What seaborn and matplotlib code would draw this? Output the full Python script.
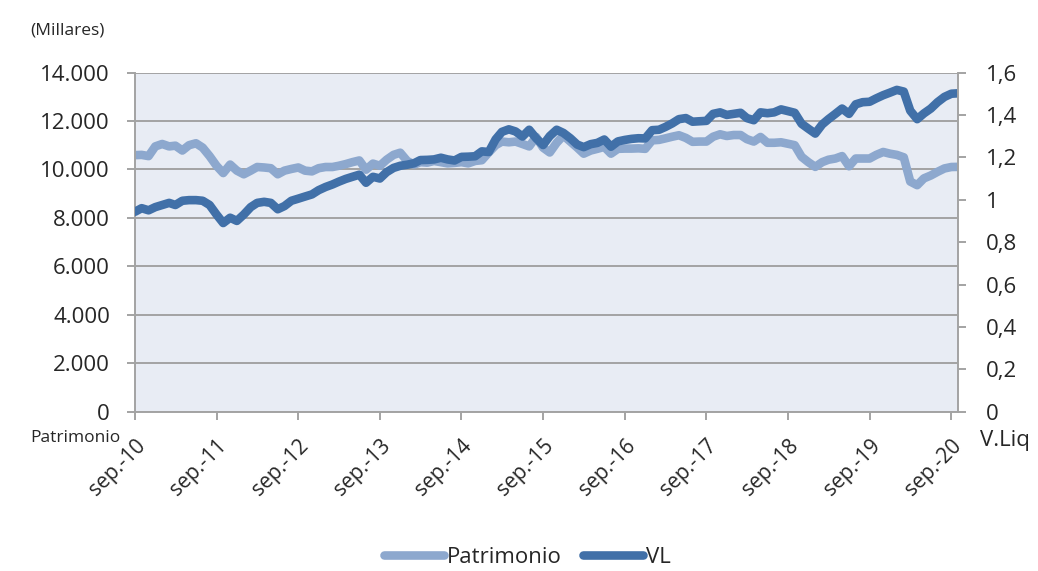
import numpy as np
import pandas as pd
import matplotlib
matplotlib.use("Agg")
import matplotlib.pyplot as plt
import seaborn as sns

# ---------------- data (monthly, sep-2010 .. oct-2020) ----------------
patrimonio = [
    10590, 10600, 10550, 10950, 11050, 10950, 10980, 10780, 11000, 11080,
    10900, 10550, 10150, 9850, 10200, 9950, 9800, 9950, 10100, 10080,
    10050, 9800, 9950, 10020, 10080, 9950, 9920, 10050, 10100, 10100,
    10150, 10220, 10300, 10370, 9990, 10240, 10150, 10400, 10600, 10690,
    10350, 10200, 10300, 10280, 10350, 10300, 10250, 10270, 10300, 10250,
    10350, 10380, 10700, 11000, 11150, 11120, 11150, 11050, 10950, 11340,
    10900, 10700, 11100, 11400, 11150, 10900, 10650, 10780, 10850, 10930,
    10650, 10850, 10860, 10860, 10870, 10850, 11200, 11220, 11280, 11350,
    11410, 11300, 11140, 11150, 11150, 11350, 11450, 11380, 11420, 11420,
    11250, 11150, 11340, 11100, 11100, 11120, 11060, 11000, 10520, 10300,
    10105, 10300, 10400, 10450, 10550, 10130, 10450, 10450, 10450, 10600,
    10720, 10650, 10600, 10500, 9500, 9350, 9630, 9750, 9900, 10040,
    10100, 10105,
]
vl = [
    0.943, 0.960, 0.950, 0.965, 0.975, 0.985, 0.975, 0.995, 0.998, 0.998,
    0.995, 0.975, 0.930, 0.890, 0.915, 0.900, 0.930, 0.965, 0.985, 0.990,
    0.985, 0.955, 0.970, 0.995, 1.005, 1.015, 1.025, 1.045, 1.060, 1.072,
    1.085, 1.098, 1.108, 1.118, 1.080, 1.108, 1.100, 1.130, 1.150, 1.160,
    1.165, 1.172, 1.187, 1.188, 1.190, 1.198, 1.190, 1.185, 1.202, 1.203,
    1.205, 1.228, 1.225, 1.285, 1.320, 1.332, 1.322, 1.298, 1.330, 1.290,
    1.258, 1.300, 1.330, 1.315, 1.290, 1.260, 1.248, 1.262, 1.268, 1.284,
    1.250, 1.275, 1.282, 1.287, 1.290, 1.289, 1.328, 1.330, 1.343, 1.360,
    1.380, 1.385, 1.368, 1.370, 1.372, 1.405, 1.412, 1.400, 1.405, 1.410,
    1.385, 1.375, 1.412, 1.408, 1.412, 1.426, 1.418, 1.410, 1.358, 1.335,
    1.312, 1.355, 1.380, 1.405, 1.430, 1.405, 1.450, 1.460, 1.462, 1.478,
    1.493, 1.505, 1.518, 1.510, 1.420, 1.380, 1.407, 1.430, 1.460, 1.485,
    1.500, 1.502,
]
start_month = "2010-09-01"
x_tick_labels = ["sep.-10", "sep.-11", "sep.-12", "sep.-13", "sep.-14", "sep.-15",
                 "sep.-16", "sep.-17", "sep.-18", "sep.-19", "sep.-20"]
left_ticks = [0, 2000, 4000, 6000, 8000, 10000, 12000, 14000]
left_tick_labels = ["0", "2.000", "4.000", "6.000", "8.000", "10.000", "12.000", "14.000"]
right_ticks = [0, 0.2, 0.4, 0.6, 0.8, 1.0, 1.2, 1.4, 1.6]
right_tick_labels = ["0", "0,2", "0,4", "0,6", "0,8", "1", "1,2", "1,4", "1,6"]
series_names = ["Patrimonio", "VL"]

fechas = pd.date_range(start_month, periods=len(vl), freq="MS")
df = pd.DataFrame({"fecha": fechas, "Patrimonio": patrimonio, "VL": vl})

# ---------------- style ----------------
sns.set_style("white")
plt.rcParams["font.family"] = ["Open Sans", "DejaVu Sans"]

C_PAT = "#8DA8CE"
C_VL = "#4170A8"
C_GRID = "#A3A3A3"
BG = "#E8ECF4"

fig = plt.figure(figsize=(10.38, 5.71), dpi=100)
ax = fig.add_axes([0.130, 0.279, 0.793, 0.594])
ax.set_facecolor(BG)

sns.lineplot(data=df, x="fecha", y="Patrimonio", ax=ax, color=C_PAT, lw=6.2,
             legend=False, solid_capstyle="round", solid_joinstyle="round")
ax2 = ax.twinx()
sns.lineplot(data=df, x="fecha", y="VL", ax=ax2, color=C_VL, lw=6.2,
             legend=False, solid_capstyle="round", solid_joinstyle="round")

ax.set_xlim(fechas[0], fechas[-1])
ax.set_ylim(0, 14000)
ax2.set_ylim(0, 1.6)

sep_dates = [d for d in fechas if d.month == 9]
ax.set_xticks(sep_dates)
ax.set_xticklabels(x_tick_labels, rotation=45, ha="right", va="top",
                   rotation_mode="anchor", fontsize=15)
ax.set_yticks(left_ticks)
ax.set_yticklabels(left_tick_labels, fontsize=16)
ax2.set_yticks(right_ticks)
ax2.set_yticklabels(right_tick_labels, fontsize=16)

ax.set_xlabel("")
ax.set_ylabel("")
ax2.set_ylabel("")

ax.grid(axis="y", color=C_GRID, lw=1.4)
ax.grid(axis="x", visible=False)
ax.set_axisbelow(True)

for a in (ax, ax2):
    for s in a.spines.values():
        s.set_visible(False)
ax.spines["left"].set_visible(True)
ax.spines["bottom"].set_visible(True)
ax2.spines["right"].set_visible(True)
for s in (ax.spines["left"], ax.spines["bottom"], ax2.spines["right"]):
    s.set_color(C_GRID)
    s.set_linewidth(1.4)

ax.tick_params(axis="y", length=6, width=1.4, color=C_GRID, pad=12, left=True)
ax.tick_params(axis="x", length=6, width=1.4, color=C_GRID, pad=11, bottom=True)
ax2.tick_params(axis="y", length=6, width=1.4, color=C_GRID, pad=14, right=True)

fig.text(0.029, 0.947, "(Millares)", fontsize=12.5, ha="left", va="center")
fig.text(0.029, 0.233, "Patrimonio", fontsize=12.5, ha="left", va="center")
fig.text(0.944, 0.228, "V.Liq", fontsize=16, ha="left", va="center")

handles = [ax.lines[0], ax2.lines[0]]
fig.legend(handles, series_names, loc="lower center", bbox_to_anchor=(0.508, -0.03),
           ncol=2, frameon=False, fontsize=16, handlelength=2.7,
           handletextpad=0.1, columnspacing=1.0)

fig.savefig("out.png", dpi=100)
